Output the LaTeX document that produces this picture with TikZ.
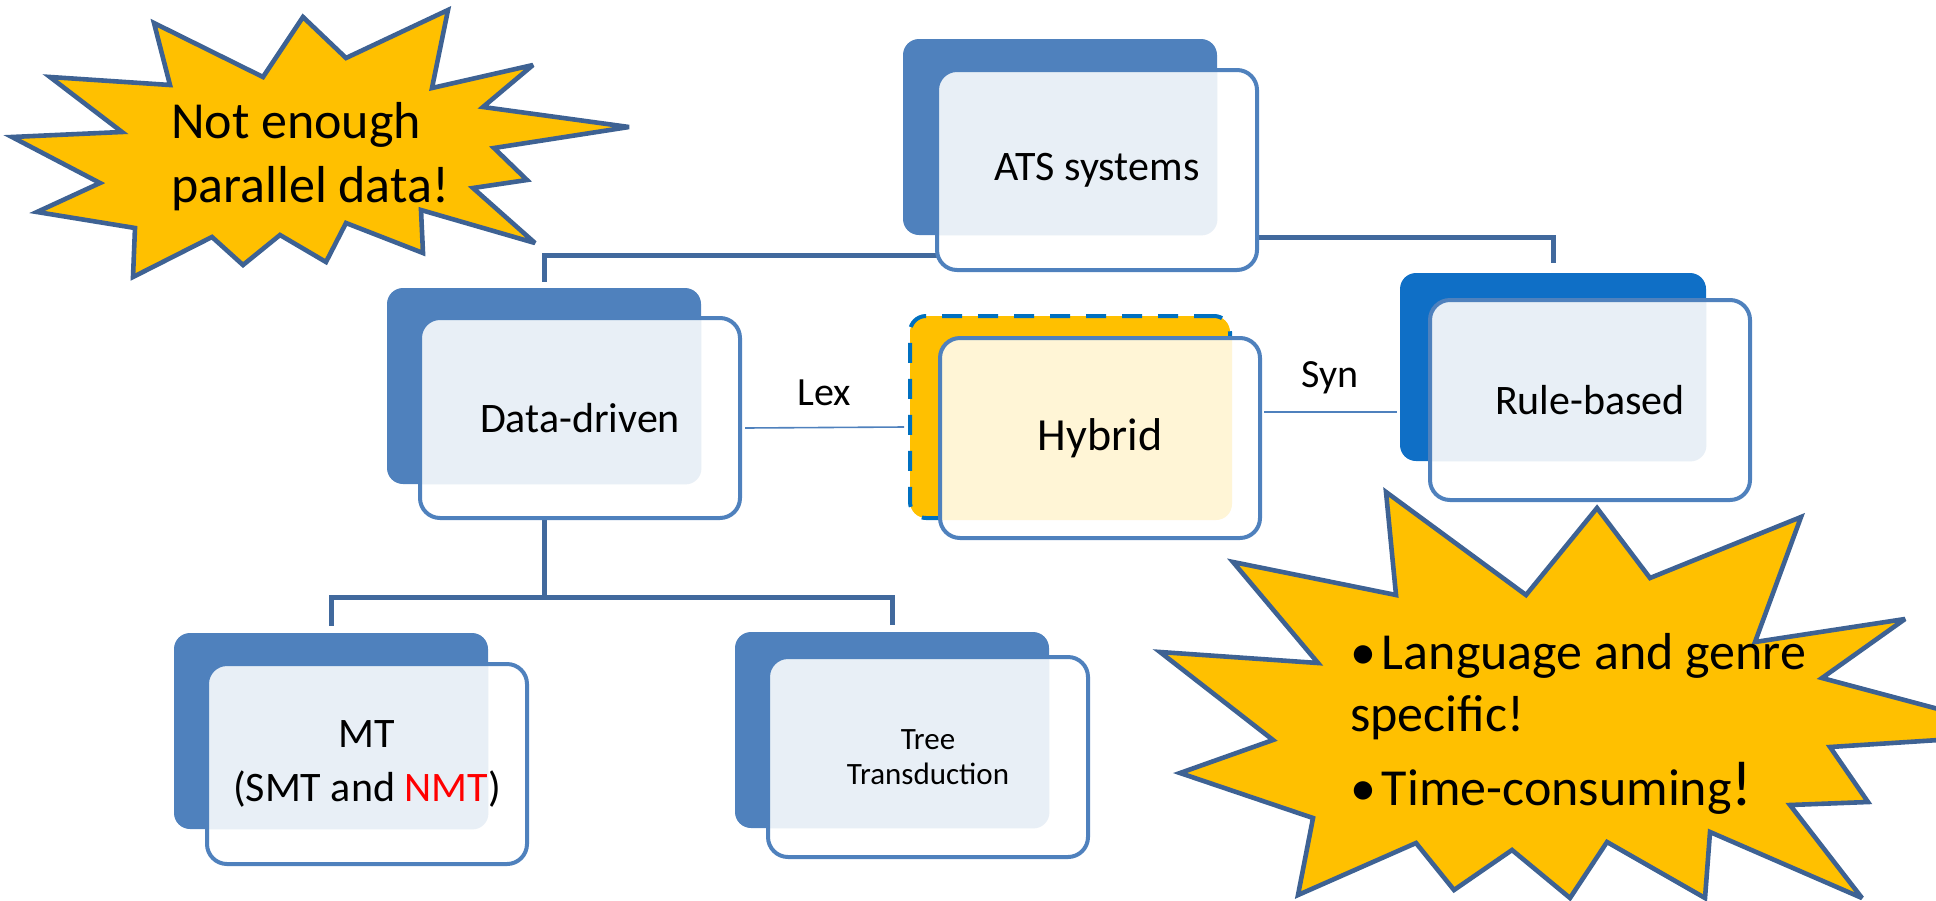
\documentclass[tikz,border=0pt]{standalone}
\usepackage{fontspec}
\setmainfont{Carlito}
\usetikzlibrary{calc}
\definecolor{backblue}{HTML}{4F81BD}
\definecolor{ruleblue}{HTML}{0F6FC6}
\definecolor{connblue}{HTML}{41699D}
\definecolor{hybyellow}{HTML}{FFC000}
\definecolor{dashblue}{HTML}{0070C0}
\definecolor{starline}{HTML}{3E6293}
\colorlet{bluetint}{backblue!13!white}
\colorlet{yellowtint}{hybyellow!16!white}

\begin{document}
\begin{tikzpicture}[x=0.5pt, y=-0.5pt,
    backbox/.style={fill=#1, rounded corners=8pt, minimum width=157pt, minimum height=98pt, inner sep=0pt},
    frontbox/.style 2 args={draw=backblue, line width=2pt, fill=white, rounded corners=10pt,
      minimum width=160pt, minimum height=100pt, inner sep=0pt, align=center,
      font=\fontsize{21}{27}\selectfont,
      path picture={\fill[#2, rounded corners=8pt] ([shift={(-10pt,10pt)}]path picture bounding box.north west) rectangle (#1.south east);}},
    conn/.style={draw=connblue, line width=2.5pt},
    thinline/.style={draw=backblue, line width=0.8pt},
    lbl/.style={font=\fontsize{20}{24}\selectfont},
    burst/.style={fill=hybyellow, draw=starline, line width=2.3pt, line join=miter, miter limit=4}]
    \useasboundingbox (0,0) rectangle (1936,900);
    \clip (0,0) rectangle (1936,900);

    \node[backbox=backblue] (atsB) at (1060,137) {};
    \node[backbox=backblue] (dataB) at (544,386) {};
    \node[backbox=hybyellow, draw=dashblue, line width=2pt, dash pattern=on 10pt off 8pt,
          minimum width=160pt, minimum height=101pt] (hybB) at (1070,417) {};
    \node[backbox=ruleblue, minimum width=153pt, minimum height=94pt] (ruleB) at (1553,367) {};
    \node[backbox=backblue] (mtB) at (331,731) {};
    \node[backbox=backblue] (treeB) at (892,730) {};

    \draw[conn] (atsB.south) -- ++(0,20) -| ([yshift=3pt]dataB.north);
    \draw[conn] (atsB.south) -- ++(0,2) -| ([yshift=5pt]ruleB.north);
    \draw[conn] (dataB.south) -- ++(0,113) -| ([yshift=3.5pt]mtB.north);
    \draw[conn] (dataB.south) -- ++(0,113) -| ([yshift=3.5pt]treeB.north);

    \node[frontbox={atsB}{bluetint}] (atsF) at (1097,170) {ATS systems};
    \node[frontbox={dataB}{bluetint}] (dataF) at (580,418) {Data-driven};
    \node[frontbox={hybB}{yellowtint}, font=\fontsize{23}{27}\selectfont] (hybF) at (1100,438) {Hybrid};
    \node[frontbox={ruleB}{bluetint}] (ruleF) at (1590,400) {Rule-based};
    \node[frontbox={mtB}{bluetint}] (mtF) at (367,764) {MT\\(SMT and \textcolor{red}{NMT})};
    \node[frontbox={treeB}{bluetint}, font=\fontsize{15.5}{17.5}\selectfont] (treeF) at (928,757) {Tree\\Transduction};

    \draw[thinline] ($(dataF.east)+(3,10)$) -- node[lbl, yshift=17.5pt] (lexL) {Lex} ($(hybB.west)+(-4,10)$);
    \draw[thinline] ($(hybF.east)+(2,-26)$) -- node[lbl, yshift=17pt] (synL) {Syn} ($(ruleB.west)+(-3,45)$);

    \draw[burst] (154,23) -- (170,85) -- (50,77) -- (122,132) -- (12,137) -- (100,183) -- (37,212)
        -- (135,228) -- (133,277) -- (212,237) -- (243,265) -- (280,235) -- (326,262) -- (346,223)
        -- (423,253) -- (421,210) -- (535,243) -- (473,188) -- (527,180) -- (494,148) -- (629,127)
        -- (483,107) -- (533,65) -- (432,88) -- (448,10) -- (346,58) -- (303,17) -- (263,77) -- cycle;
    \node[anchor=base west, align=left, font=\fontsize{26}{32}\selectfont] (dataNote) at (164,202)
        {Not enough\\parallel data!};

    \draw[burst] (1386,492) -- (1396,595) -- (1233,562) -- (1318,663) -- (1160,652) -- (1273,740)
        -- (1180,773) -- (1313,818) -- (1298,895) -- (1416,843) -- (1454,890) -- (1512,850)
        -- (1570,898) -- (1607,842) -- (1705,898) -- (1710,832) -- (1862,898) -- (1790,805)
        -- (1868,802) -- (1830,747) -- (2032,734) -- (1822,678) -- (1905,619) -- (1755,642)
        -- (1801,517) -- (1650,578) -- (1597,508) -- (1526,595) -- cycle;
    \node[anchor=base west, align=left, font=\fontsize{26}{31}\selectfont] (ruleNote) at (1343,805)
        {•\hspace{3pt}Language and genre\\specific!\\[6pt]•\hspace{3pt}Time-consuming{\fontsize{32}{31}\selectfont !}};
\end{tikzpicture}
\end{document}
